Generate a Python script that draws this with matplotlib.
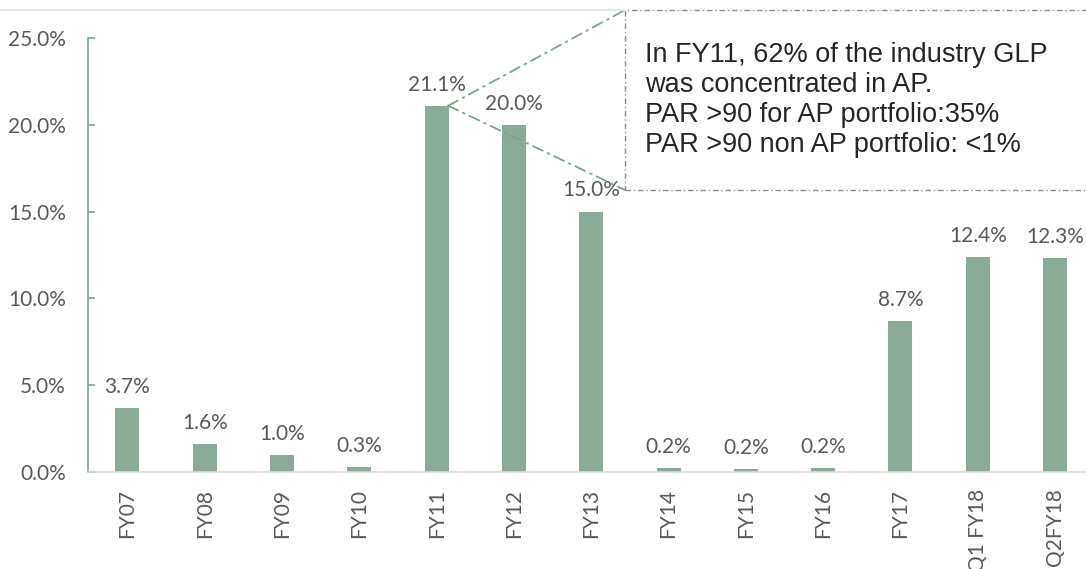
import matplotlib.pyplot as plt
from matplotlib.patches import Rectangle, ConnectionPatch
from matplotlib.lines import Line2D
from matplotlib.ticker import FuncFormatter

categories = ["FY07", "FY08", "FY09", "FY10", "FY11", "FY12", "FY13",
              "FY14", "FY15", "FY16", "FY17", "Q1 FY18", "Q2FY18"]
values = [3.7, 1.6, 1.0, 0.3, 21.1, 20.0, 15.0, 0.22, 0.16, 0.22, 8.7, 12.4, 12.3]
callout_lines = [
    "In FY11, 62% of the industry GLP",
    "was concentrated in AP.",
    "PAR >90 for AP portfolio:35%",
    "PAR >90 non AP portfolio: <1%",
]

bar_color = "#8aab98"
text_gray = "#595959"

fig = plt.figure(figsize=(10.86, 5.69), dpi=100)
ax = fig.add_axes([88 / 1086, 1 - 472 / 569, 998 / 1086, 434 / 569])

x = list(range(len(categories)))
ax.bar(x, values, width=0.31, color=bar_color)
for xi, v in zip(x, values):
    ax.annotate(f"{v:.1f}%", (xi, v), xytext=(0, 8), textcoords="offset points",
                ha="center", va="bottom", fontsize=15, color=text_gray, family="Lato")

ax.set_xlim(-0.51, 12.4)
ax.set_ylim(0, 25)
ax.set_yticks([0, 5, 10, 15, 20, 25])
ax.yaxis.set_major_formatter(FuncFormatter(lambda v, p: f"{v:.1f}%"))
ax.set_xticks(x)
ax.set_xticklabels(categories, rotation=90)

for s in ["top", "right"]:
    ax.spines[s].set_visible(False)
ax.spines["left"].set_color("#7aa58a")
ax.spines["left"].set_linewidth(1.2)
ax.spines["bottom"].set_color("#d9d9d9")
ax.spines["bottom"].set_linewidth(1.2)

ax.tick_params(axis="y", direction="in", length=5, width=1.2, color="#7aa58a",
               labelsize=15, labelcolor=text_gray, pad=16)
ax.tick_params(axis="x", length=0, labelsize=15, labelcolor=text_gray, pad=12)
for lbl in ax.get_xticklabels() + ax.get_yticklabels():
    lbl.set_family("Lato")

# slide border line at the top
fig.add_artist(Line2D([0, 625 / 1086], [1 - 10 / 569, 1 - 10 / 569],
                      transform=fig.transFigure, color="#e6e6e6", lw=1.5))

# callout box
bx0, by0 = 625 / 1086, 1 - 190 / 569
by1 = 1 - 10 / 569
fig.add_artist(Rectangle((bx0, by0), 1.0 - bx0 + 0.01, by1 - by0,
                         transform=fig.transFigure, fill=False,
                         edgecolor="#8c8c8c", lw=1, linestyle=(0, (4, 2, 1, 2))))
fig.text(645 / 1086, 1 - 42 / 569, "\n".join(callout_lines), fontsize=19.5,
         family="Liberation Sans", color="#262626", va="top", ha="left",
         linespacing=1.2)

for by in (by1, by0):
    con = ConnectionPatch(xyA=(4.15, 21.1), coordsA=ax.transData,
                          xyB=(bx0, by), coordsB=fig.transFigure,
                          color="#7aa58a", lw=1.3, linestyle=(0, (6, 3, 1, 3)))
    fig.add_artist(con)

fig.savefig("out.png", dpi=100)
